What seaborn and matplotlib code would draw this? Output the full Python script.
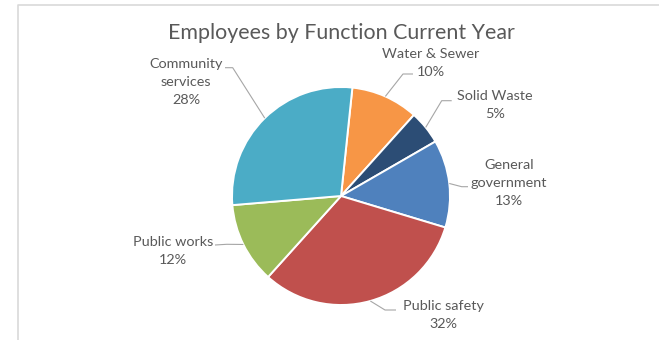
import numpy as np
import matplotlib
matplotlib.use("Agg")
import matplotlib.pyplot as plt
import seaborn as sns

# Data: share of employees by function (clockwise from the top)
functions = ["Water & Sewer", "Solid Waste", "General\ngovernment", "Public safety",
             "Public works", "Community\nservices"]
shares = [10, 5, 13, 32, 12, 28]
colors = ["#F79646", "#2C4D75", "#4F81BD", "#C0504D", "#9BBB59", "#4BACC6"]

# Label layout in pixel space (x, y from top): text block centre, elbow and end of leader
label_pos = [(431, 63), (495, 105), (509, 183), (443, 315.5), (173, 251), (186, 82)]
elbow_pos = [(403, 74), (441.7, 100.7), (461.7, 186.7), (385, 310), (226.7, 244.3), (232.7, 67.7)]
end_pos = [(413, 74), (451.7, 100.7), (468, 186.7), (396, 310), (215, 245), (225, 67.7)]

sns.set_theme(style="white")
plt.rcParams["font.family"] = ["Lato", "DejaVu Sans"]

W, H = 659, 340
fig = plt.figure(figsize=(W / 100, H / 100), dpi=100)
ax = fig.add_axes([0, 0, 1, 1])

center = (341, 196)
radius = 109
# y axis runs downward, so counterclock in data is clockwise on screen
wedges, _ = ax.pie(shares, colors=colors, startangle=-84, counterclock=True,
                   center=center, radius=radius,
                   wedgeprops=dict(edgecolor="white", linewidth=1.4))
ax.set_xlim(0, W)
ax.set_ylim(H, 0)
ax.set_aspect("equal")
ax.axis("off")

text_color = "#595959"
line_color = "#A6A6A6"
for w, name, val, lp, ep, np_ in zip(wedges, functions, shares, label_pos, elbow_pos, end_pos):
    mid = np.deg2rad((w.theta1 + w.theta2) / 2)
    edge = (center[0] + radius * np.cos(mid), center[1] + radius * np.sin(mid))
    ax.plot([edge[0], ep[0], np_[0]], [edge[1], ep[1], np_[1]],
            color=line_color, lw=0.8, solid_capstyle="butt")
    ax.text(lp[0], lp[1], f"{name}\n{val}%", ha="center", va="center",
            multialignment="center", fontsize=10.4, color=text_color, linespacing=1.6)

ax.text(341, 33, "Employees by Function Current Year", ha="center", va="center",
        fontsize=15.4, color=text_color)

# Chart area frame (left and top edges visible)
ax.plot([18, 18, W + 5], [H + 5, 4.5, 4.5], color="#D9D9D9", lw=1.2, clip_on=False)

fig.savefig("out.png", dpi=100)
